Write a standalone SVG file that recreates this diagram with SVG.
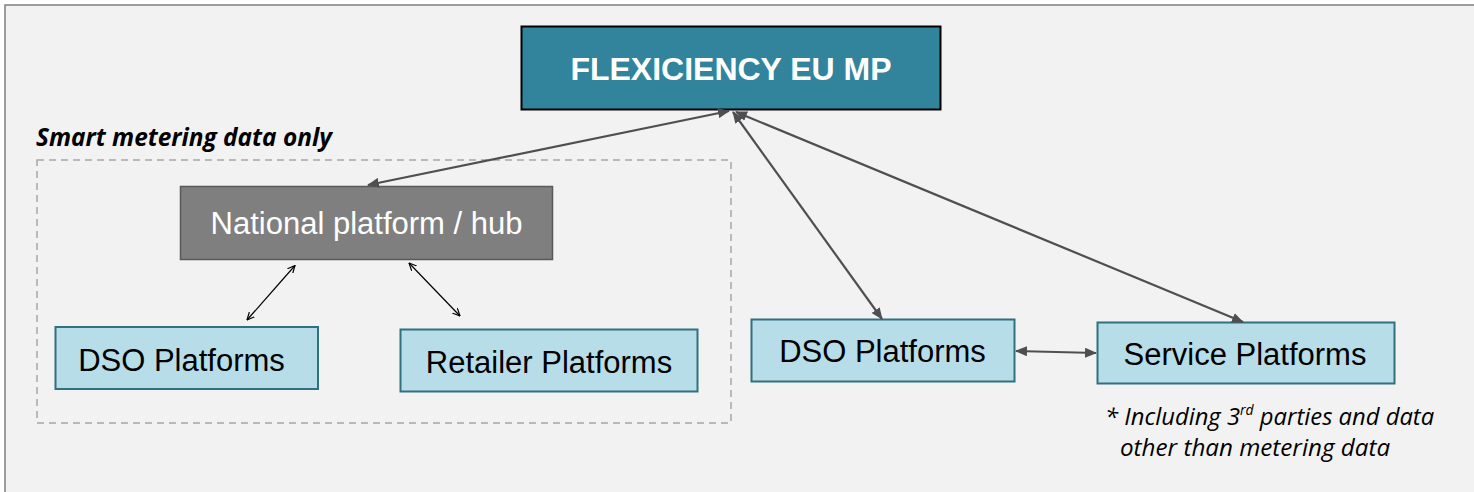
<svg xmlns="http://www.w3.org/2000/svg" width="1474" height="492" viewBox="0 0 1474 492">
<style>
.frame{fill:#f2f2f2;stroke:#7f7f7f;stroke-width:1.5}
.blue{fill:#b7dde8;stroke:#31707e;stroke-width:2}
.lbl{font-family:"Liberation Sans",Arial,sans-serif;font-size:31px;fill:#000;text-anchor:middle}
.big{stroke:#4f4f52;stroke-width:2.2;fill:none}
.thin{stroke:#000;stroke-width:1.2;fill:none}
.note{font-family:"Open Sans","Liberation Sans",sans-serif;font-style:italic;fill:#000}
</style>
<defs>
<marker id="ah" viewBox="0 0 12 10" refX="11" refY="5" markerWidth="12" markerHeight="10" markerUnits="userSpaceOnUse" orient="auto-start-reverse">
<path d="M0,0 L12,5 L0,10 z" fill="#4f4f52"/>
</marker>
<marker id="av" viewBox="0 0 8 8" refX="7.5" refY="4" markerWidth="8" markerHeight="8" markerUnits="userSpaceOnUse" orient="auto-start-reverse">
<path d="M0,0.5 L7.5,4 L0,7.5" fill="none" stroke="#000" stroke-width="1.2"/>
</marker>
</defs>
<rect x="0" y="0" width="1474" height="492" fill="#ffffff"/>
<rect class="frame" x="5" y="5" width="1480" height="500"/>
<rect x="37" y="160" width="694" height="263" fill="none" stroke="#a6a6a6" stroke-width="1.5" stroke-dasharray="7,5"/>
<text x="36" y="146" font-family="Open Sans,Liberation Sans,sans-serif" font-weight="bold" font-style="italic" font-size="24.4" fill="#000">Smart metering data only</text>

<g id="flexiciency">
<rect x="521.5" y="26.5" width="419" height="83" fill="#31849b" stroke="#000" stroke-width="2"/>
<text x="731" y="80" font-family="Liberation Sans,Arial,sans-serif" font-weight="bold" font-size="32" fill="#fff" text-anchor="middle">FLEXICIENCY EU MP</text>
</g>
<g id="national">
<rect x="180.5" y="186.5" width="372" height="73" fill="#7f7f7f" stroke="#595959" stroke-width="1.5"/>
<text class="lbl" x="366.5" y="234" style="fill:#fff">National platform / hub</text>
</g>
<g id="dso-left">
<rect class="blue" x="55.5" y="327" width="262.5" height="62"/>
<text class="lbl" x="181.5" y="371">DSO Platforms</text>
</g>
<g id="retailer">
<rect class="blue" x="400.5" y="329.5" width="297" height="62"/>
<text class="lbl" x="549" y="373">Retailer Platforms</text>
</g>
<g id="dso-right">
<rect class="blue" x="751.5" y="319.5" width="263" height="62"/>
<text class="lbl" x="882.5" y="362">DSO Platforms</text>
</g>
<g id="service">
<rect class="blue" x="1097.5" y="322.5" width="297" height="61"/>
<text class="lbl" x="1245" y="364.5">Service Platforms</text>
</g>
<g id="connectors">
<line class="big" x1="729" y1="111" x2="368" y2="185" marker-start="url(#ah)" marker-end="url(#ah)"/>
<line class="big" x1="733" y1="112" x2="882" y2="319" marker-start="url(#ah)" marker-end="url(#ah)"/>
<line class="big" x1="736" y1="112" x2="1243" y2="322" marker-start="url(#ah)" marker-end="url(#ah)"/>
<line class="big" x1="1016" y1="351" x2="1096" y2="353" marker-start="url(#ah)" marker-end="url(#ah)"/>
<line class="thin" x1="295" y1="265.5" x2="247" y2="320" marker-start="url(#av)" marker-end="url(#av)"/>
<line class="thin" x1="409" y1="263" x2="460" y2="316" marker-start="url(#av)" marker-end="url(#av)"/>
</g>
<g id="footnote">
<text class="note" x="1105" y="425" font-size="23.8">* Including 3<tspan font-size="14" dy="-10">rd</tspan><tspan dy="10"> parties and data</tspan></text>
<text class="note" x="1120" y="456" font-size="24.2">other than metering data</text>
</g>
</svg>
